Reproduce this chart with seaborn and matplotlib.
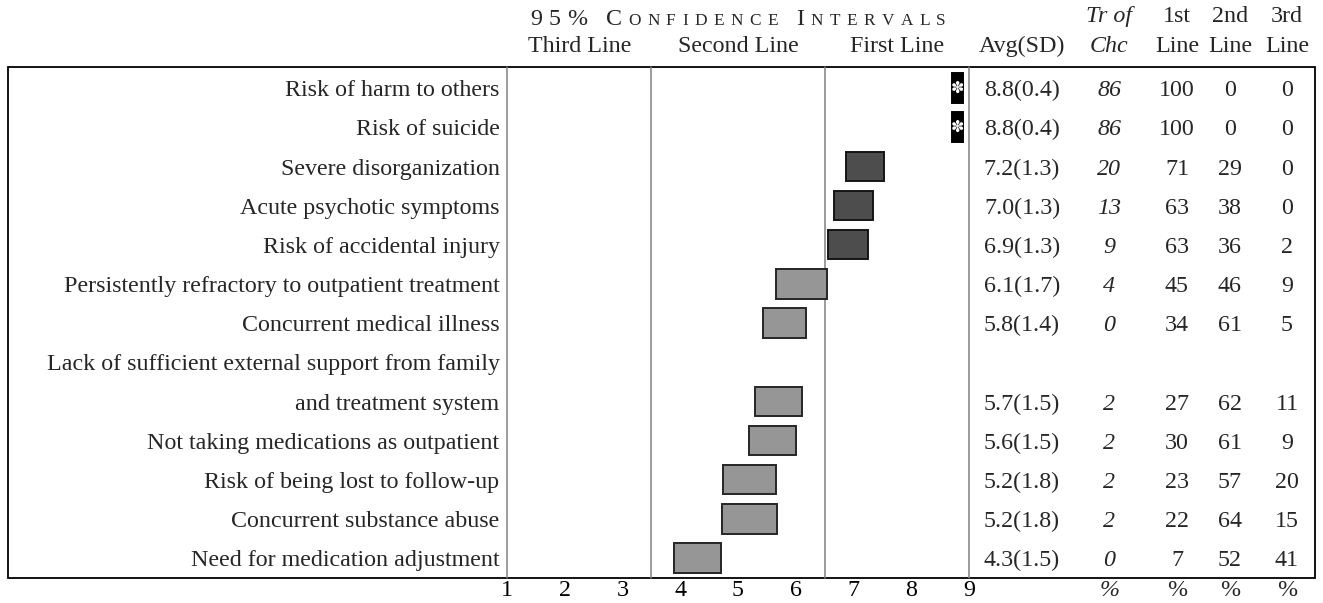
import numpy as np
import pandas as pd
import matplotlib
matplotlib.use("Agg")
import matplotlib.pyplot as plt
import matplotlib.transforms as mtransforms
from matplotlib.patches import Rectangle
import seaborn as sns

# ---- data -----------------------------------------------------------------
categories = [
    "Risk of harm to others",
    "Risk of suicide",
    "Severe disorganization",
    "Acute psychotic symptoms",
    "Risk of accidental injury",
    "Persistently refractory to outpatient treatment",
    "Concurrent medical illness",
    "Lack of sufficient external support from family\nand treatment system",
    "Not taking medications as outpatient",
    "Risk of being lost to follow-up",
    "Concurrent substance abuse",
    "Need for medication adjustment",
]
avg = [8.8, 8.8, 7.2, 7.0, 6.9, 6.1, 5.8, 5.7, 5.6, 5.2, 5.2, 4.3]
sd = [0.4, 0.4, 1.3, 1.3, 1.3, 1.7, 1.4, 1.5, 1.5, 1.8, 1.8, 1.5]
ci_half = [0.10, 0.10, 0.335, 0.345, 0.35, 0.44, 0.375, 0.405, 0.405, 0.465, 0.47, 0.405]
tr_chc = [86, 86, 20, 13, 9, 4, 0, 2, 2, 2, 2, 0]
first_line = [100, 100, 71, 63, 63, 45, 34, 27, 30, 23, 22, 7]
second_line = [0, 0, 29, 38, 36, 46, 61, 62, 61, 57, 64, 52]
third_line = [0, 0, 0, 0, 2, 9, 5, 11, 9, 20, 15, 41]

scale_ticks = [1, 2, 3, 4, 5, 6, 7, 8, 9]
zone_edges = [1, 3.5, 6.5, 9]
zone_names = ["Third Line", "Second Line", "First Line"]

# ---- style ----------------------------------------------------------------
sns.set_theme(style="white")
plt.rcParams["font.family"] = ["Liberation Serif", "DejaVu Sans"]
FS = 17.3
DY = 0.07  # nudge text rows so glyphs sit level with the boxes

W, H = 1323, 603
fig = plt.figure(figsize=(W / 100, H / 100), dpi=100)
fig.patch.set_facecolor("white")

# pixel-space canvas for the frame and the title
bg = fig.add_axes([0, 0, 1, 1])
bg.set_xlim(0, W)
bg.set_ylim(H, 0)
bg.axis("off")

L, R, T, B, RT = 507, 969, 67, 578, 1315
ax = fig.add_axes([L / W, 1 - B / H, (R - L) / W, (B - T) / H])
tab = fig.add_axes([R / W, 1 - B / H, (RT - R) / W, (B - T) / H], sharey=ax)
for a in (ax, tab):
    a.patch.set_visible(False)
    for s in a.spines.values():
        s.set_visible(False)

bg.add_patch(Rectangle((8, T), RT - 8, B - T, fill=False, ec="black", lw=1.3))

# ---- interval panel ---------------------------------------------------------
df = pd.DataFrame({
    "category": categories, "avg": avg, "sd": sd, "half": ci_half,
    "tr": tr_chc, "first": first_line, "second": second_line, "third": third_line,
})
df["lines"] = df["category"].str.count("\n") + 1
df["pos"] = df["lines"].cumsum() - 1
df["lo"] = df["avg"] - df["half"]
df["span"] = 2 * df["half"]
df["tier"] = np.where(df["tr"] >= 50, "choice",
                      np.where(df["avg"] >= zone_edges[2], "first", "second"))

tier_style = {
    "choice": ("black", "black"),
    "first": ("#4d4d4d", "#151515"),
    "second": ("#969696", "#262626"),
}

# zone separators
for e in zone_edges:
    ax.axvline(e, color="#808080", lw=1.1, clip_on=False, zorder=0)

# confidence-interval boxes
for tier, sub in df.groupby("tier"):
    fc, ec = tier_style[tier]
    sns.barplot(data=sub, x="span", y="pos", orient="y", native_scale=True,
                width=0.75, left=sub["lo"].to_numpy(), color=fc, saturation=1,
                edgecolor=ec, linewidth=1.4, errorbar=None, ax=ax, zorder=2)

for r in df[df["tier"] == "choice"].itertuples():
    ax.text(r.avg, r.pos, "\u273D", color="white", ha="center", va="center",
            fontsize=11.5, family="DejaVu Sans", zorder=3)

ax.set_xlim(zone_edges[0], zone_edges[-1])
ax.set_ylim(df["pos"].max() + 0.51, -0.536)
ax.set_xticks(scale_ticks)
ax.set_xticklabels([str(t) for t in scale_ticks], fontsize=FS)
ax.tick_params(axis="x", length=0, pad=1.5, colors="black")
ax.set_yticks([])
ax.set_xlabel("")
ax.set_ylabel("")

# row labels
lab_tr = mtransforms.blended_transform_factory(ax.transAxes, ax.transData)
for r in df.itertuples():
    parts = r.category.split("\n")
    for k, line in enumerate(parts):
        ax.text(-0.016, r.pos - (len(parts) - 1 - k) + DY, line, ha="right",
                va="center", transform=lab_tr, fontsize=FS)

# zone headings and title
head_tr = mtransforms.blended_transform_factory(ax.transData, ax.transAxes)
for name, a, b in zip(zone_names, zone_edges[:-1], zone_edges[1:]):
    ax.text((a + b) / 2, 1.040, name, ha="center", va="center",
            transform=head_tr, fontsize=FS)

renderer = fig.canvas.get_renderer()
title_parts = [("95%", FS), (" ", FS), ("C", FS), ("ONFIDENCE", FS * 0.72),
               (" ", FS), ("I", FS), ("NTERVALS", FS * 0.72)]
items = []
for s, size in title_parts:
    for ch in s:
        if ch == " ":
            items.append(None)
        else:
            items.append(bg.text(0, 25, ch, fontsize=size, ha="left", va="baseline"))
widths = [t.get_window_extent(renderer).width if t is not None else 6 for t in items]
tracking = 6.4
total = sum(widths) + tracking * (len(items) - 1)
x = (L + R) / 2 - total / 2
for t, w in zip(items, widths):
    if t is not None:
        t.set_x(x)
    x += w + tracking

# ---- right-hand table ------------------------------------------------------
tab.set_xlim(0, 1)
tab.set_xticks([])
col_x = {"avg": 0.153, "tr": 0.405, "first": 0.601, "second": 0.754, "third": 0.919}
for r in df.itertuples():
    y = r.pos + DY
    tab.text(col_x["avg"], y, f"{r.avg:.1f}({r.sd:.1f})", ha="center", va="center", fontsize=FS)
    tab.text(col_x["tr"], y, f"{r.tr}", ha="center", va="center", fontsize=FS, style="italic")
    tab.text(col_x["first"], y, f"{r.first}", ha="center", va="center", fontsize=FS)
    tab.text(col_x["second"], y, f"{r.second}", ha="center", va="center", fontsize=FS)
    tab.text(col_x["third"], y, f"{r.third}", ha="center", va="center", fontsize=FS)

htr = tab.transAxes
tab.text(col_x["avg"], 1.040, "Avg(SD)", ha="center", va="center", transform=htr, fontsize=FS)
tab.text(col_x["tr"], 1.099, "Tr of", ha="center", va="center", transform=htr, fontsize=FS, style="italic")
tab.text(col_x["tr"], 1.040, "Chc", ha="center", va="center", transform=htr, fontsize=FS, style="italic")
for key, top in (("first", "1st"), ("second", "2nd"), ("third", "3rd")):
    tab.text(col_x[key], 1.099, top, ha="center", va="center", transform=htr, fontsize=FS)
    tab.text(col_x[key], 1.040, "Line", ha="center", va="center", transform=htr, fontsize=FS)
    tab.text(col_x[key], -0.003, "%", ha="center", va="top", transform=htr, fontsize=FS)
tab.text(col_x["tr"], -0.003, "%", ha="center", va="top", transform=htr, fontsize=FS, style="italic")

fig.savefig("out.png", dpi=100)
